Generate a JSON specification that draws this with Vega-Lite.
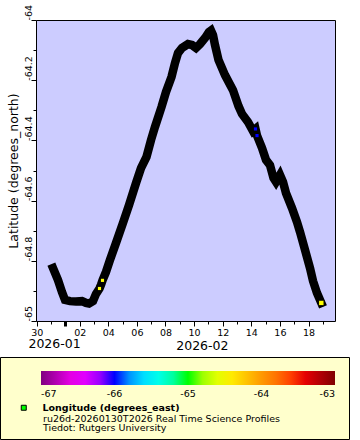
{
  "$schema": "https://vega.github.io/schema/vega-lite/v6.json",
  "width": 299,
  "height": 301,
  "autosize": {"type": "none"},
  "padding": {"left": 36, "top": 20, "right": 25, "bottom": 119},
  "background": "white",
  "title": {
    "text": ["ru26d-20260130T2026 Real Time Science Profiles", "Tiedot: Rutgers University"],
    "orient": "bottom",
    "anchor": "start",
    "frame": "group",
    "font": "DejaVu Sans",
    "fontSize": 9.5,
    "fontWeight": "normal",
    "color": "black",
    "lineHeight": 9,
    "dx": 7,
    "offset": -26
  },
  "config": {
    "view": {"fill": "#ccccff", "stroke": "black", "strokeWidth": 1},
    "font": "DejaVu Sans",
    "axis": {"labelColor": "black", "tickColor": "black", "titleColor": "black", "domain": false, "grid": false, "labelFont": "DejaVu Sans", "titleFont": "DejaVu Sans"}
  },
  "data": {
    "values": [
      {"time": "2026-01-31T03:12:00", "lat": -64.824},
      {"time": "2026-01-31T11:35:00", "lat": -64.864},
      {"time": "2026-01-31T18:17:00", "lat": -64.904},
      {"time": "2026-01-31T23:20:00", "lat": -64.930},
      {"time": "2026-02-01T07:44:00", "lat": -64.934},
      {"time": "2026-02-01T17:47:00", "lat": -64.935},
      {"time": "2026-02-02T03:52:00", "lat": -64.934},
      {"time": "2026-02-02T10:35:00", "lat": -64.940},
      {"time": "2026-02-02T15:36:00", "lat": -64.942},
      {"time": "2026-02-02T22:19:00", "lat": -64.934},
      {"time": "2026-02-03T03:22:00", "lat": -64.910},
      {"time": "2026-02-03T09:14:00", "lat": -64.892, "lon": -64.5},
      {"time": "2026-02-03T11:46:00", "lat": -64.880},
      {"time": "2026-02-03T14:15:00", "lat": -64.865, "lon": -64.5},
      {"time": "2026-02-03T20:08:00", "lat": -64.837},
      {"time": "2026-02-04T02:51:00", "lat": -64.797},
      {"time": "2026-02-04T12:55:00", "lat": -64.741},
      {"time": "2026-02-05T00:40:00", "lat": -64.674},
      {"time": "2026-02-05T10:45:00", "lat": -64.615},
      {"time": "2026-02-05T22:29:00", "lat": -64.542},
      {"time": "2026-02-06T06:53:00", "lat": -64.492},
      {"time": "2026-02-06T16:06:00", "lat": -64.455},
      {"time": "2026-02-06T23:40:00", "lat": -64.399},
      {"time": "2026-02-07T06:23:00", "lat": -64.355},
      {"time": "2026-02-07T17:17:00", "lat": -64.289},
      {"time": "2026-02-08T00:50:00", "lat": -64.239},
      {"time": "2026-02-08T10:05:00", "lat": -64.189},
      {"time": "2026-02-08T15:56:00", "lat": -64.143},
      {"time": "2026-02-08T20:59:00", "lat": -64.110},
      {"time": "2026-02-09T03:42:00", "lat": -64.093},
      {"time": "2026-02-09T13:45:00", "lat": -64.080},
      {"time": "2026-02-09T20:28:00", "lat": -64.083},
      {"time": "2026-02-10T03:12:00", "lat": -64.093},
      {"time": "2026-02-10T09:55:00", "lat": -64.080},
      {"time": "2026-02-10T18:17:00", "lat": -64.060},
      {"time": "2026-02-11T01:00:00", "lat": -64.040},
      {"time": "2026-02-11T04:22:00", "lat": -64.035},
      {"time": "2026-02-11T07:44:00", "lat": -64.050},
      {"time": "2026-02-11T11:05:00", "lat": -64.083},
      {"time": "2026-02-11T16:57:00", "lat": -64.133},
      {"time": "2026-02-12T03:52:00", "lat": -64.183},
      {"time": "2026-02-12T17:17:00", "lat": -64.233},
      {"time": "2026-02-13T02:31:00", "lat": -64.286},
      {"time": "2026-02-13T08:24:00", "lat": -64.312},
      {"time": "2026-02-13T18:27:00", "lat": -64.339},
      {"time": "2026-02-14T02:51:00", "lat": -64.369},
      {"time": "2026-02-14T07:03:00", "lat": -64.362, "lon": -66.0},
      {"time": "2026-02-14T09:35:00", "lat": -64.384, "lon": -66.0},
      {"time": "2026-02-14T17:57:00", "lat": -64.425},
      {"time": "2026-02-15T00:40:00", "lat": -64.465},
      {"time": "2026-02-15T07:24:00", "lat": -64.482},
      {"time": "2026-02-15T13:15:00", "lat": -64.525},
      {"time": "2026-02-15T17:27:00", "lat": -64.538},
      {"time": "2026-02-16T00:10:00", "lat": -64.515},
      {"time": "2026-02-16T05:12:00", "lat": -64.538},
      {"time": "2026-02-16T10:15:00", "lat": -64.575},
      {"time": "2026-02-16T20:18:00", "lat": -64.625},
      {"time": "2026-02-17T04:42:00", "lat": -64.671},
      {"time": "2026-02-17T09:45:00", "lat": -64.704},
      {"time": "2026-02-17T18:07:00", "lat": -64.764},
      {"time": "2026-02-18T02:31:00", "lat": -64.824},
      {"time": "2026-02-18T07:34:00", "lat": -64.867},
      {"time": "2026-02-18T14:15:00", "lat": -64.907},
      {"time": "2026-02-18T21:29:00", "lat": -64.940, "lon": -64.5}
    ]
  },
  "encoding": {
    "x": {
      "field": "time",
      "type": "temporal",
      "scale": {"domain": [{"year": 2026, "month": 1, "date": 29, "hours": 22, "minutes": 40}, {"year": 2026, "month": 2, "date": 19, "hours": 20, "minutes": 28}]},
      "axis": {
        "title": null,
        "values": [
          {"year": 2026, "month": 1, "date": 30}, {"year": 2026, "month": 1, "date": 31}, {"year": 2026, "month": 1, "date": 31, "hours": 5},
          {"year": 2026, "month": 2, "date": 1}, {"year": 2026, "month": 2, "date": 2}, {"year": 2026, "month": 2, "date": 3},
          {"year": 2026, "month": 2, "date": 4}, {"year": 2026, "month": 2, "date": 5}, {"year": 2026, "month": 2, "date": 6},
          {"year": 2026, "month": 2, "date": 7}, {"year": 2026, "month": 2, "date": 8}, {"year": 2026, "month": 2, "date": 9},
          {"year": 2026, "month": 2, "date": 10}, {"year": 2026, "month": 2, "date": 10, "hours": 13}, {"year": 2026, "month": 2, "date": 11},
          {"year": 2026, "month": 2, "date": 12}, {"year": 2026, "month": 2, "date": 13}, {"year": 2026, "month": 2, "date": 14},
          {"year": 2026, "month": 2, "date": 15}, {"year": 2026, "month": 2, "date": 16}, {"year": 2026, "month": 2, "date": 17},
          {"year": 2026, "month": 2, "date": 18}, {"year": 2026, "month": 2, "date": 19}
        ],
        "labelExpr": "hours(datum.value) > 0 ? timeFormat(datum.value, '%Y-%m') : ((date(datum.value) == 30 || (month(datum.value) == 1 && date(datum.value) % 2 == 0)) ? timeFormat(datum.value, '%d') : '')",
        "labelAngle": 0,
        "labelAlign": "center",
        "labelBaseline": "top",
        "labelOverlap": false,
        "labelFlush": false,
        "labelBound": false,
        "labelFontSize": {"condition": {"test": "hours(datum.value) > 0", "value": 12.5}, "value": 9.5},
        "labelPadding": {"condition": {"test": "hours(datum.value) > 0", "value": 13}, "value": 1},
        "tickOpacity": {"condition": {"test": "hours(datum.value) > 0", "value": 0}, "value": 1},
        "tickSize": {"condition": {"test": "date(datum.value) == 30 || (month(datum.value) == 1 && (date(datum.value) % 2 == 0 || date(datum.value) == 1))", "value": 5}, "value": 3},
        "tickWidth": {"condition": {"test": "month(datum.value) == 1 && date(datum.value) == 1", "value": 3}, "value": 1}
      }
    },
    "y": {
      "field": "lat",
      "type": "quantitative",
      "scale": {"domain": [-65, -64], "nice": false, "zero": false},
      "axis": {
        "title": "Latitude (degrees_north)",
        "titleFontSize": 12.5,
        "titleFontWeight": "normal",
        "titlePadding": 3,
        "values": [-64, -64.1, -64.2, -64.3, -64.4, -64.5, -64.6, -64.7, -64.8, -64.9, -65],
        "labelExpr": "round(abs(datum.value) * 10) % 2 == 0 ? '' + datum.value : ''",
        "labelAngle": 270,
        "labelAlign": "left",
        "labelBaseline": "alphabetic",
        "labelFontSize": 9.5,
        "labelPadding": 0,
        "labelOverlap": false,
        "labelFlush": false,
        "labelBound": false,
        "tickSize": {"condition": {"test": "round(abs(datum.value) * 10) % 2 == 0", "value": 5}, "value": 3}
      }
    }
  },
  "layer": [
    {
      "mark": {"type": "line", "color": "black", "strokeWidth": 8.5, "strokeCap": "square", "strokeJoin": "miter"}
    },
    {
      "transform": [
        {"filter": "isValid(datum.lon)"},
        {"window": [{"op": "row_number", "as": "rank"}], "sort": [{"field": "time", "order": "descending"}]}
      ],
      "mark": {"type": "point", "filled": true, "stroke": "black", "opacity": 1},
      "encoding": {
        "size": {"condition": {"test": "datum.rank == 1", "value": 30}, "value": 10},
        "strokeWidth": {"condition": {"test": "datum.rank == 1", "value": 1}, "value": 0},
        "fill": {
          "field": "lon",
          "type": "quantitative",
          "scale": {
            "domain": [-67, -66.5, -66, -65.5, -65, -64.5, -64, -63.5, -63],
            "range": ["#800080", "#ff00ff", "#0000ff", "#00ffff", "#00ff00", "#ffff00", "#ff9900", "#ff0000", "#800000"]
          },
          "legend": {
            "orient": "none",
            "legendX": -36,
            "legendY": 337,
            "zindex": 0,
            "direction": "horizontal",
            "gradientLength": 294,
            "gradientThickness": 14,
            "gradientStrokeWidth": 0,
            "padding": 14,
            "fillColor": "#ffffcc",
            "strokeColor": "black",
            "values": [-67, -66, -65, -64, -63],
            "labelExpr": "'' + datum.value",
            "labelAlign": "center",
            "labelOffset": 4,
            "labelFontSize": 9.5,
            "labelFont": "DejaVu Sans",
            "labelColor": "black",
            "labelOverlap": false,
            "title": [" ", " ", " ", " ", " "],
            "titleOrient": "left",
            "titleAnchor": "start",
            "titleFontSize": 10,
            "titleLineHeight": 11,
            "titlePadding": 27,
            "titleColor": "#ffffcc"
          }
        },
        "shape": {
          "datum": "Longitude (degrees_east)",
          "type": "nominal",
          "scale": {"range": ["square"]},
          "legend": {
            "title": null,
            "orient": "none",
            "legendX": -17,
            "legendY": 383,
            "zindex": 2,
            "padding": 0,
            "symbolSize": 25,
            "symbolStrokeWidth": 1,
            "symbolStrokeColor": "black",
            "symbolFillColor": "#00ff00",
            "labelFontWeight": "bold",
            "labelFontSize": 9.5,
            "labelFont": "DejaVu Sans",
            "labelColor": "black",
            "labelOffset": 14,
            "labelLimit": 300
          }
        }
      }
    }
  ]
}
